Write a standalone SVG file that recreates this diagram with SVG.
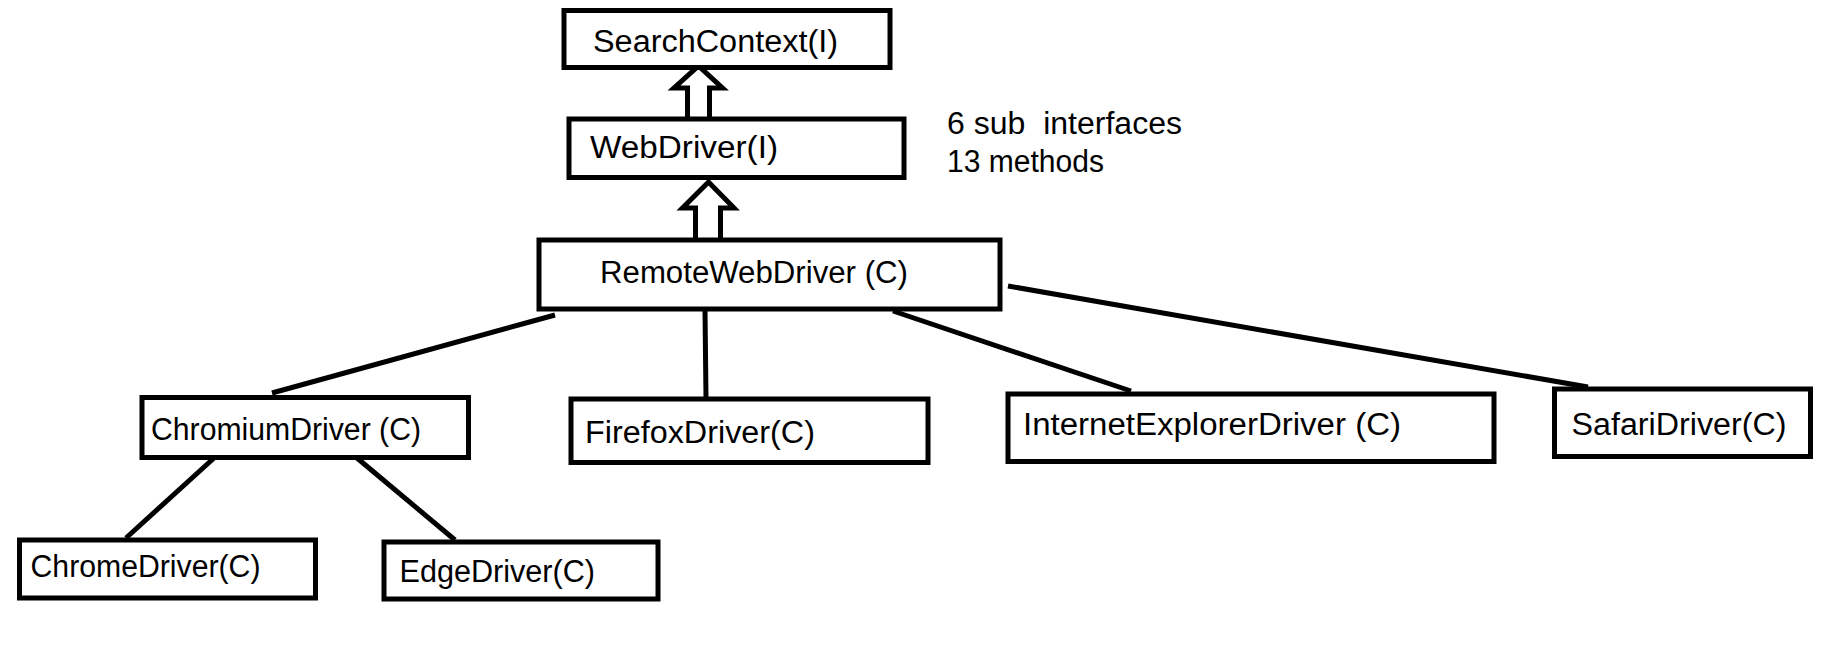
<svg xmlns="http://www.w3.org/2000/svg" width="1828" height="648" viewBox="0 0 1828 648">
<style>
.box{fill:#fff;stroke:#000;stroke-width:5}
.lbl{font-family:"Liberation Sans","DejaVu Sans",sans-serif;font-size:31px;fill:#000}
.con{stroke:#000;stroke-width:5;fill:none;stroke-linecap:butt}
.inh{fill:#fff;stroke:#000;stroke-width:5;stroke-linejoin:miter}
</style>
<rect width="1828" height="648" fill="#fff"/>
<g id="connectors">
<line class="con" x1="555" y1="315" x2="272" y2="393"/>
<line class="con" x1="705" y1="311" x2="706" y2="398"/>
<line class="con" x1="893" y1="311" x2="1131" y2="391"/>
<line class="con" x1="1008" y1="286" x2="1588" y2="387"/>
<line class="con" x1="214" y1="458" x2="126" y2="538"/>
<line class="con" x1="357" y1="458" x2="455" y2="540"/>
<polyline class="inh" points="687.5,119 687.5,88 674,88 698.5,66 722.5,88 709.5,88 709.5,119"/>
<polyline class="inh" points="695.5,240 695.5,208 682.5,208 708.5,182 734,208 720.5,208 720.5,240"/>
</g>
<g id="searchcontext">
<rect class="box" x="564" y="10.5" width="326" height="57"/>
<text class="lbl" x="593" y="52" textLength="245" lengthAdjust="spacingAndGlyphs">SearchContext(I)</text>
</g>
<g id="webdriver">
<rect class="box" x="569" y="119" width="335" height="58.5"/>
<text class="lbl" x="590" y="158" textLength="188" lengthAdjust="spacingAndGlyphs">WebDriver(I)</text>
</g>
<g id="remotewebdriver">
<rect class="box" x="539" y="240" width="461" height="69"/>
<text class="lbl" x="600" y="283" textLength="308" lengthAdjust="spacingAndGlyphs">RemoteWebDriver (C)</text>
</g>
<g id="note">
<text class="lbl" x="947" y="134" textLength="235" lengthAdjust="spacingAndGlyphs" xml:space="preserve">6 sub  interfaces</text>
<text class="lbl" x="947" y="172" textLength="157" lengthAdjust="spacingAndGlyphs">13 methods</text>
</g>
<g id="chromiumdriver">
<rect class="box" x="142" y="397.5" width="326.5" height="60"/>
<text class="lbl" x="151" y="440" textLength="270" lengthAdjust="spacingAndGlyphs">ChromiumDriver (C)</text>
</g>
<g id="firefoxdriver">
<rect class="box" x="571" y="399" width="357" height="63.5"/>
<text class="lbl" x="585" y="443" textLength="230" lengthAdjust="spacingAndGlyphs">FirefoxDriver(C)</text>
</g>
<g id="iedriver">
<rect class="box" x="1008" y="394" width="486" height="67.5"/>
<text class="lbl" x="1023" y="435" textLength="378" lengthAdjust="spacingAndGlyphs">InternetExplorerDriver (C)</text>
</g>
<g id="safaridriver">
<rect class="box" x="1554.5" y="389" width="256" height="67.5"/>
<text class="lbl" x="1571.5" y="435" textLength="215" lengthAdjust="spacingAndGlyphs">SafariDriver(C)</text>
</g>
<g id="chromedriver">
<rect class="box" x="19.5" y="540" width="296" height="58"/>
<text class="lbl" x="30.5" y="577" textLength="230" lengthAdjust="spacingAndGlyphs">ChromeDriver(C)</text>
</g>
<g id="edgedriver">
<rect class="box" x="384" y="542" width="274" height="57"/>
<text class="lbl" x="399.5" y="582" textLength="195.5" lengthAdjust="spacingAndGlyphs">EdgeDriver(C)</text>
</g>
</svg>
